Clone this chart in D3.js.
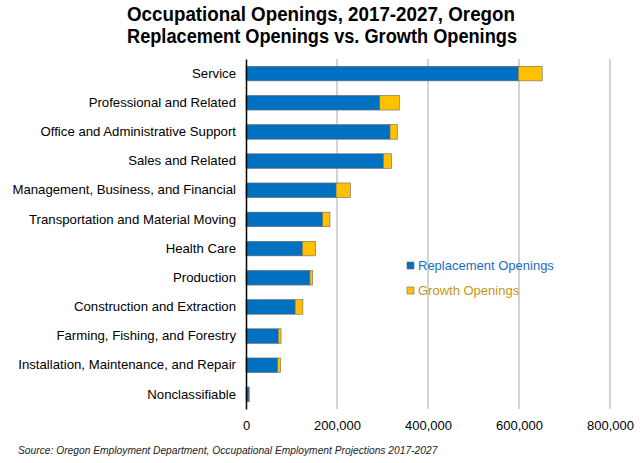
<!DOCTYPE html>
<html>
<head>
<meta charset="utf-8">
<script src="https://cdn.jsdelivr.net/npm/d3@7"></script>
<style>
  body { margin: 0; background: #fff; }
  svg { font-family: "Liberation Sans", Arial, sans-serif; }
</style>
</head>
<body>
<div id="chart"></div>
<script>
// occupation groups, top to bottom
let categories = [
  "Service",
  "Professional and Related",
  "Office and Administrative Support",
  "Sales and Related",
  "Management, Business, and Financial",
  "Transportation and Material Moving",
  "Health Care",
  "Production",
  "Construction and Extraction",
  "Farming, Fishing, and Forestry",
  "Installation, Maintenance, and Repair",
  "Nonclassifiable"
];
let replacement = [598500, 294000, 316500, 302000, 198000, 168500, 124000, 140500, 108000, 71000, 69500, 6500];
let growth = [52500, 43000, 16000, 18000, 31500, 16000, 29000, 6000, 17000, 6000, 6500, 500];
let xTicks = [0, 200000, 400000, 600000, 800000];
let seriesNames = ["Replacement Openings", "Growth Openings"];

function drawChart(id) {
  let width = 640, height = 463;
  let margin = {top: 59, right: 30, bottom: 54, left: 246};
  let colors = ["#0070c0", "#ffc000"];
  let legendText = ["#1a6dc4", "#c89614"];

  let svg = d3.select(`#${id}`).append("svg")
    .attr("width", width).attr("height", height);

  let x = d3.scaleLinear().domain([0, 800000]).range([margin.left, 610]);
  let y = d3.scaleBand().domain(categories)
    .range([margin.top, height - margin.bottom]).paddingInner(0.5).paddingOuter(0.25);

  // title
  let title = svg.append("text")
    .attr("text-anchor", "middle")
    .attr("font-weight", "bold")
    .attr("font-size", 20)
    .attr("fill", "#000");
  title.append("tspan").attr("x", 321).attr("y", 21)
    .attr("textLength", 388).attr("lengthAdjust", "spacingAndGlyphs")
    .text("Occupational Openings, 2017-2027, Oregon");
  title.append("tspan").attr("x", 322).attr("y", 43)
    .attr("textLength", 390).attr("lengthAdjust", "spacingAndGlyphs")
    .text("Replacement Openings vs. Growth Openings");

  // gridlines
  svg.append("g").selectAll("line")
    .data(xTicks.slice(1))
    .join("line")
    .attr("x1", d => x(d)).attr("x2", d => x(d))
    .attr("y1", margin.top).attr("y2", height - margin.bottom)
    .attr("stroke", "#c6c6c6").attr("stroke-width", 1.5);

  // stacked bars
  let stack = categories.map((c, i) => ({name: c, r: replacement[i], g: growth[i]}));
  let rows = svg.append("g").selectAll("g")
    .data(stack)
    .join("g");
  rows.append("rect")
    .attr("x", x(0))
    .attr("y", d => y(d.name))
    .attr("width", d => x(d.r) - x(0))
    .attr("height", y.bandwidth())
    .attr("fill", colors[0])
    .attr("stroke", "#6a6a6a").attr("stroke-width", 0.6);
  rows.append("rect")
    .attr("x", d => x(d.r))
    .attr("y", d => y(d.name))
    .attr("width", d => x(d.r + d.g) - x(d.r))
    .attr("height", y.bandwidth())
    .attr("fill", colors[1])
    .attr("stroke", "#6a6a6a").attr("stroke-width", 0.6);

  // category axis
  let yAxis = svg.append("g")
    .attr("transform", `translate(${x(0)},0)`)
    .call(d3.axisLeft(y).tickSize(0).tickPadding(10));
  yAxis.select(".domain").attr("stroke", "#000").attr("stroke-width", 1.5);
  yAxis.selectAll("text").attr("font-size", 13.2).attr("fill", "#000")
    .attr("font-family", "Liberation Sans, Arial, sans-serif");

  // value axis labels
  let xAxis = svg.append("g")
    .attr("transform", `translate(0,${height - margin.bottom})`)
    .call(d3.axisBottom(x).tickValues(xTicks).tickSize(0).tickPadding(12)
      .tickFormat(d3.format(",")));
  xAxis.select(".domain").remove();
  xAxis.selectAll("text").attr("font-size", 13).attr("fill", "#000")
    .attr("font-family", "Liberation Sans, Arial, sans-serif");

  // legend
  let legend = svg.append("g").attr("transform", "translate(407,265.5)");
  seriesNames.forEach((s, i) => {
    let g = legend.append("g").attr("transform", `translate(0,${i * 25})`);
    g.append("rect").attr("x", 0).attr("y", -3.5).attr("width", 7).attr("height", 7)
      .attr("fill", colors[i]).attr("stroke", "#6a6a6a").attr("stroke-width", 0.6);
    g.append("text").attr("x", 11).attr("y", 0).attr("dy", "0.35em")
      .attr("font-size", 13).attr("fill", legendText[i]).text(s);
  });

  // source note
  svg.append("text")
    .attr("x", 18).attr("y", 454)
    .attr("font-size", 10.25).attr("font-style", "italic").attr("fill", "#222")
    .text("Source: Oregon Employment Department, Occupational Employment Projections 2017-2027");
}

drawChart("chart");
</script>
</body>
</html>
